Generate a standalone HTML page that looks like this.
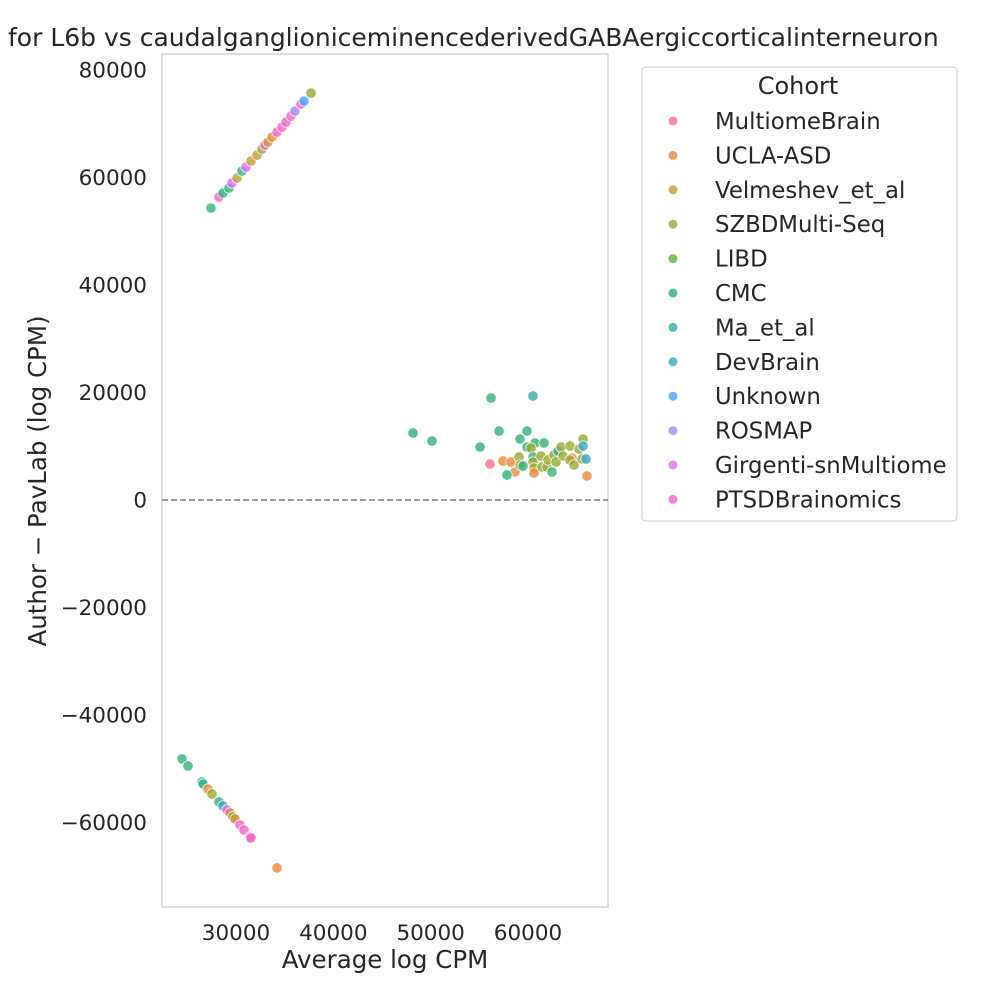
<!DOCTYPE html>
<html><head><meta charset="utf-8"><style>
body{margin:0;background:#fff;}
svg{display:block;font-family:"DejaVu Sans","Liberation Sans",sans-serif;}
</style></head><body>
<svg id="chart" width="1000" height="1000" viewBox="0 0 1000 1000"></svg>
<script>
const cohorts=["MultiomeBrain","UCLA-ASD","Velmeshev_et_al","SZBDMulti-Seq","LIBD","CMC","Ma_et_al","DevBrain","Unknown","ROSMAP","Girgenti-snMultiome","PTSDBrainomics"];
const colors=["#f77189","#e8893a","#c39a3c","#9aa832","#5fb03a","#33b07a","#36ada4","#38a8c5","#4aa3f0","#a38cf4","#e56af0","#f565c0"];
const xVals=[27431,28253,28664,29281,29589,30103,30617,31028,31542,32158,32672,32980,33288,33699,34213,34727,35138,35652,36063,36679,36987,37706,
24452,25068,26507,26609,27123,27534,28253,28664,29075,29384,29692,29897,30411,30822,31439,31541,34213,
48187,50139,55071,56201,60517,57023,59900,59181,60722,61647,59900,60311,56099,57434,58256,58667,57845,59078,59181,59489,60517,60517,60620,60620,61339,61442,61956,62058,62469,62675,62880,63086,63394,63599,64319,64524,64319,64730,65243,65552,65654,65654,65963,66065];
const yVals=[54312,56358,57102,58032,58962,59892,61194,61938,63054,64170,65286,66030,66588,67518,68448,69378,70308,71424,72354,73656,74214,75702,
-48174,-49476,-52452,-52824,-53754,-54684,-56172,-56916,-57660,-58218,-58962,-59334,-60450,-61380,-62682,-62868,-68448,
12462,10974,9858,18972,19344,12834,12834,11346,10602,10602,9858,9672,6696,7254,7068,5208,4650,7998,6510,6324,7998,7068,5952,5022,8184,6138,6138,7440,5208,8370,7068,9114,9858,8184,10044,7812,7440,6510,9486,7626,11346,10044,7626,4464];
const cIdx=[5,11,5,5,10,2,5,10,2,2,3,11,2,1,11,11,11,11,9,11,8,3,
5,5,5,6,1,3,5,7,10,1,4,1,11,11,10,11,1,
5,5,5,5,6,5,5,5,5,5,5,3,0,1,1,1,5,3,3,5,5,3,3,1,3,3,3,3,5,3,3,6,3,3,3,1,3,3,3,3,3,7,7,1];
const xTicks=[30000,40000,50000,60000];
const yTicks=[80000,60000,40000,20000,0,-20000,-40000,-60000];
const NS="http://www.w3.org/2000/svg";
const svg=document.getElementById('chart');
const L=162,R=608,T=54,B=907;
const sx=v=>236+(v-30000)/10000*97.33;
const sy=v=>500-v/20000*107.5;
function mk(tag,attrs,parent){const e=document.createElementNS(NS,tag);for(const k in attrs)e.setAttribute(k,attrs[k]);(parent||svg).appendChild(e);return e;}
const title=mk('text',{x:8,y:46,'font-size':25,fill:'#262626'});


title.textContent="for L6b vs caudalganglioniceminencederivedGABAergiccorticalinterneuron";
const frame=mk('rect',{x:L,y:T,width:R-L,height:B-T,fill:'none',stroke:'#cccccc','stroke-width':1.3});


const zl=mk('line',{x1:L,x2:R,y1:sy(0),y2:sy(0),stroke:'#808080','stroke-width':1.6,'stroke-dasharray':'6,3'});


yTicks.forEach(v=>{const t=mk('text',{x:147,y:sy(v)+7.5,'text-anchor':'end','font-size':21.5,fill:'#262626'});


t.textContent=(v<0?'\u2212':'')+Math.abs(v);});
xTicks.forEach(v=>{const t=mk('text',{x:sx(v),y:940,'text-anchor':'middle','font-size':21.5,fill:'#262626'});


t.textContent=v;});
const xl=mk('text',{x:385,y:968,'text-anchor':'middle','font-size':24.5,fill:'#262626'});


xl.textContent="Average log CPM";
const yl=mk('text',{x:0,y:0,'text-anchor':'middle','font-size':24.5,fill:'#262626',transform:'translate(46,481) rotate(-90)'});


yl.textContent="Author \u2212 PavLab (log CPM)";
xVals.forEach((x,i)=>{const c=mk('circle',{cx:sx(x),cy:sy(yVals[i]),r:5.2,fill:colors[cIdx[i]],'fill-opacity':0.8,stroke:'#fff','stroke-width':0.7});

});
const lg=mk('g',{});


mk('rect',{x:642,y:67,width:315,height:454,rx:4,fill:'#fff',stroke:'#cccccc','stroke-width':1},lg);
const lt=mk('text',{x:798,y:94,'text-anchor':'middle','font-size':24,fill:'#262626'},lg);


lt.textContent="Cohort";
cohorts.forEach((c,i)=>{const y=121+i*34.4;
const g=mk('g',{},lg);


mk('circle',{cx:673,cy:y,r:4.5,fill:colors[i],'fill-opacity':0.8},g);
const t=mk('text',{x:715,y:y+8,'font-size':22.8,fill:'#262626'},g);t.textContent=c;});
</script>
</body></html>
